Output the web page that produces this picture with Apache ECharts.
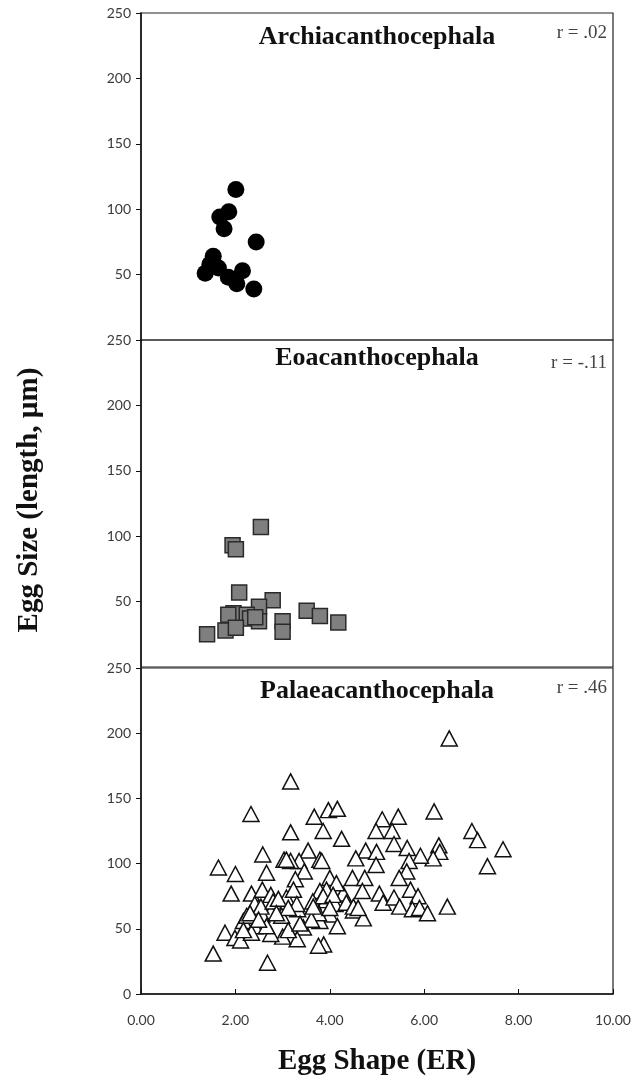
<!DOCTYPE html>
<html>
<head>
<meta charset="utf-8">
<title>Egg Size vs Egg Shape</title>
<script src="https://cdn.jsdelivr.net/npm/echarts@6.0.0/dist/echarts.min.js"></script>
<style>
  html, body { margin: 0; padding: 0; background: #fff; }
  #eggChart { width: 635px; height: 1084px; }
</style>
</head>
<body>
<div id="eggChart"></div>
<script>
  /* 数据: [Egg Shape (ER), Egg Size (length, µm)] */
  var archiData = [
    [2.01, 115], [1.86, 98], [1.67, 94], [1.76, 85], [2.44, 75],
    [1.53, 64], [1.46, 58], [1.36, 51], [1.64, 55], [1.85, 48],
    [2.15, 53], [2.03, 43], [2.39, 39]
  ];

  var eoData = [
    [2.54, 107], [1.94, 93], [2.01, 90], [2.08, 57], [2.79, 51],
    [2.50, 46], [1.96, 41], [1.85, 40], [2.24, 40], [2.31, 37],
    [2.50, 35], [3.51, 43], [3.79, 39], [4.18, 34], [3.00, 35],
    [3.00, 27], [1.40, 25], [1.79, 28], [2.01, 30], [2.42, 38]
  ];

  var palaeoData = [
    [6.53, 196], [3.17, 163], [2.33, 138], [3.67, 136], [3.97, 141],
    [4.16, 142], [3.17, 124], [3.86, 125], [4.25, 119], [5.11, 134],
    [5.45, 136], [4.98, 125], [5.32, 125], [6.21, 140], [7.01, 125],
    [7.13, 118], [7.67, 111], [7.34, 98], [6.49, 67], [5.36, 115],
    [5.64, 112], [6.31, 114], [6.33, 109], [6.19, 104], [5.92, 106],
    [5.68, 102], [5.63, 94], [5.47, 89], [4.76, 110], [4.99, 109],
    [4.55, 104], [4.98, 99], [4.48, 89], [4.74, 89], [4.69, 79],
    [5.05, 77], [5.13, 70], [5.36, 74], [5.48, 67], [5.71, 80],
    [5.87, 75], [5.75, 65], [5.90, 66], [6.07, 62], [3.54, 110],
    [3.79, 103], [3.35, 102], [3.17, 102], [3.03, 103], [2.58, 107],
    [1.64, 97], [2.00, 92], [2.66, 93], [3.46, 94], [3.27, 88],
    [4.00, 89], [1.91, 77], [2.34, 77], [2.57, 80], [2.75, 76],
    [2.41, 69], [3.08, 74], [3.32, 65], [2.98, 60], [2.75, 63],
    [3.79, 79], [3.92, 72], [4.11, 69], [4.28, 77], [4.50, 64],
    [4.71, 58], [4.00, 61], [3.64, 71], [3.79, 56], [4.16, 52],
    [3.44, 51], [3.31, 42], [3.00, 44], [2.75, 46], [3.12, 49],
    [3.87, 38], [3.76, 37], [2.68, 24], [1.53, 31], [1.78, 47],
    [1.99, 43], [2.11, 41], [2.17, 56], [2.41, 52], [2.34, 47],
    [2.56, 61], [2.66, 52], [2.54, 67], [2.24, 60], [2.80, 71],
    [2.91, 73], [3.23, 80], [3.76, 62], [4.14, 85], [4.35, 70],
    [3.30, 69], [3.61, 57], [3.93, 80], [3.12, 66], [2.31, 62],
    [2.49, 57], [2.87, 62], [3.86, 75], [4.07, 76], [4.50, 67],
    [4.60, 66], [3.37, 54], [3.65, 67], [4.00, 66], [2.17, 49],
    [3.08, 103], [3.83, 102]
  ];

  var panelNames = ['Archiacanthocephala', 'Eoacanthocephala', 'Palaeacanthocephala'];
  var rLabels = ['r = .02', 'r = -.11', 'r = .46'];
  var xTickLabels = ['0.00', '2.00', '4.00', '6.00', '8.00', '10.00'];
  var yTickLabels = ['0', '50', '100', '150', '200', '250'];

  var chartDom = document.getElementById('eggChart');
  var myChart = echarts.init(chartDom);

  var gridTops = [13, 340, 668];
  var gridHeights = [327, 327, 326];
  var serifFont = '"Liberation Serif", "DejaVu Serif", serif';

  /* 三个面板的坐标系 */
  var grids = [];
  var xAxes = [];
  var yAxes = [];
  for (var i = 0; i < 3; i++) {
    var isLast = i === 2;
    grids.push({
      left: 141,
      right: 22,
      top: gridTops[i],
      height: gridHeights[i],
      show: true,
      borderColor: '#222',
      borderWidth: 1.2,
      backgroundColor: 'transparent'
    });
    xAxes.push({
      gridIndex: i,
      type: 'value',
      min: 0,
      max: 10,
      interval: 2,
      axisLine: {show: isLast, lineStyle: {color: '#111', width: 1.5}},
      axisTick: {show: isLast, inside: true, length: 5, lineStyle: {color: '#111'}},
      axisLabel: {
        show: isLast,
        margin: 19,
        fontFamily: 'Lato, "Open Sans", sans-serif',
        fontSize: 14,
        color: '#3a3a3a',
        formatter: function (v) {
          return xTickLabels[Math.round(v / 2)];
        }
      },
      splitLine: {show: false}
    });
    yAxes.push({
      gridIndex: i,
      type: 'value',
      min: 0,
      max: 250,
      interval: 50,
      axisLine: {show: true, lineStyle: {color: '#111', width: 1.5}},
      axisTick: {show: true, inside: false, length: 5, lineStyle: {color: '#111'}},
      axisLabel: {
        showMinLabel: isLast,
        margin: 10,
        fontFamily: 'Lato, "Open Sans", sans-serif',
        fontSize: 14,
        color: '#3a3a3a',
        formatter: function (v) {
          return yTickLabels[Math.round(v / 50)];
        }
      },
      splitLine: {show: false}
    });
  }

  /* 标题与 r 值 */
  var graphics = [];
  var titleY = [37, 358, 691];
  var rY = [33, 363, 688];
  for (var j = 0; j < 3; j++) {
    graphics.push({
      type: 'text',
      x: 377,
      y: titleY[j],
      style: {
        text: panelNames[j],
        textAlign: 'center',
        textVerticalAlign: 'middle',
        font: 'bold 26px ' + serifFont,
        fill: '#111'
      }
    });
    graphics.push({
      type: 'text',
      x: 607,
      y: rY[j],
      style: {
        text: rLabels[j],
        textAlign: 'right',
        textVerticalAlign: 'middle',
        font: '19px ' + serifFont,
        fill: '#444'
      }
    });
  }
  // 轴标题
  graphics.push({
    type: 'text',
    x: 377,
    y: 1062,
    style: {
      text: 'Egg Shape (ER)',
      textAlign: 'center',
      textVerticalAlign: 'middle',
      font: 'bold 29px ' + serifFont,
      fill: '#111'
    }
  });
  graphics.push({
    type: 'text',
    x: 30,
    y: 500,
    rotation: Math.PI / 2,
    style: {
      text: 'Egg Size (length, µm)',
      textAlign: 'center',
      textVerticalAlign: 'middle',
      font: 'bold 29px ' + serifFont,
      fill: '#111'
    }
  });

  myChart.setOption({
    animation: false,
    backgroundColor: '#fff',
    grid: grids,
    xAxis: xAxes,
    yAxis: yAxes,
    graphic: graphics,
    series: [
      {
        name: panelNames[0],
        type: 'scatter',
        xAxisIndex: 0,
        yAxisIndex: 0,
        symbol: 'circle',
        symbolSize: 17,
        itemStyle: {color: '#000', opacity: 1},
        data: archiData
      },
      {
        name: panelNames[1],
        type: 'scatter',
        xAxisIndex: 1,
        yAxisIndex: 1,
        symbol: 'rect',
        symbolSize: 15,
        itemStyle: {color: '#7f7f7f', borderColor: '#2a2a2a', borderWidth: 1.5, opacity: 1},
        data: eoData
      },
      {
        name: panelNames[2],
        type: 'scatter',
        xAxisIndex: 2,
        yAxisIndex: 2,
        symbol: 'triangle',
        symbolSize: [16, 15],
        itemStyle: {color: '#fff', borderColor: '#111', borderWidth: 1.5, opacity: 1},
        data: palaeoData
      }
    ]
  });
</script>
</body>
</html>
